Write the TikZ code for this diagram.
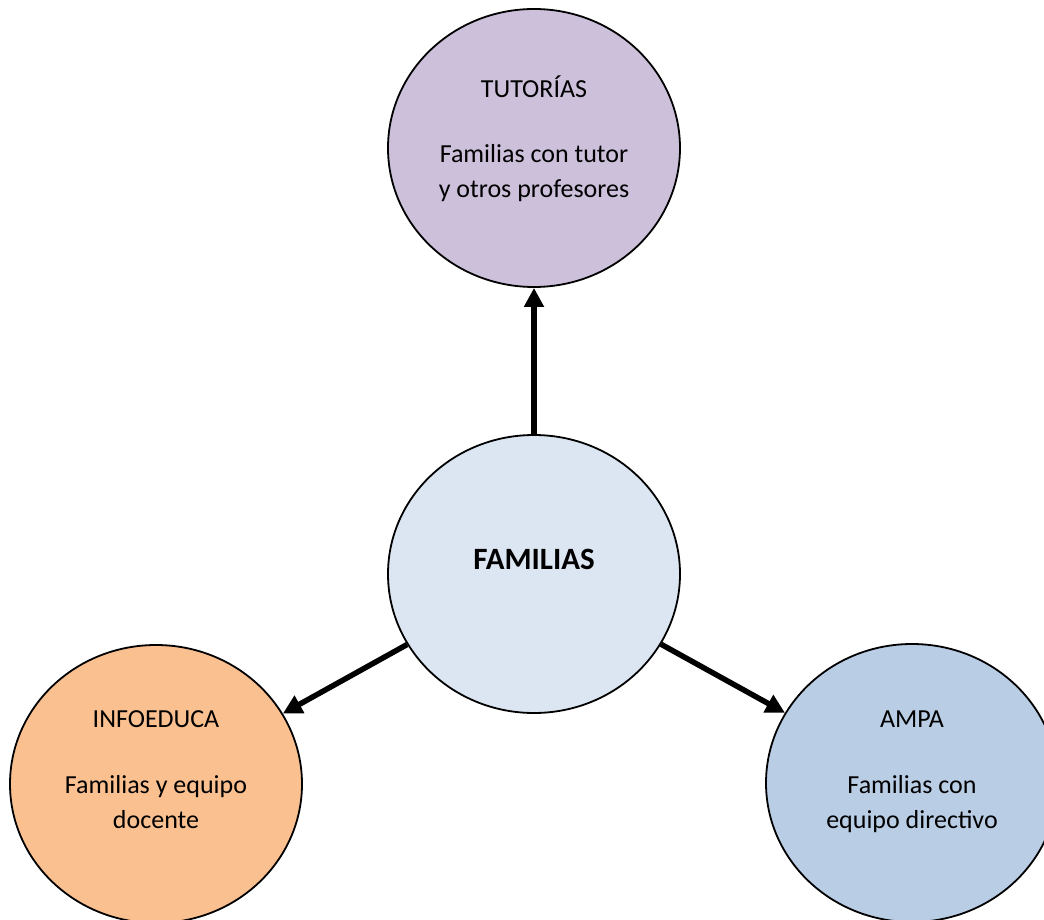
\documentclass[tikz,border=0pt]{standalone}
\usepackage{fontspec}
\setmainfont{Carlito}
\usetikzlibrary{shapes.geometric,arrows.meta}
\definecolor{tutcol}{HTML}{CCC0DA}
\definecolor{famcol}{HTML}{DCE6F2}
\definecolor{infcol}{HTML}{FAC090}
\definecolor{ampcol}{HTML}{B9CDE5}

\begin{document}
\begin{tikzpicture}[x=1pt,y=-1pt]
	\tikzstyle{node_style} = [ellipse,draw=black,line width=1.8pt,minimum width=292pt,minimum height=278pt,inner sep=0pt]
	\tikzstyle{title_style} = [font=\fontsize{26}{35}\selectfont,anchor=base,inner sep=0pt]
	\tikzstyle{text_style} = [align=center,font=\fontsize{26}{35}\selectfont,anchor=base,inner sep=0pt]
	\tikzstyle{edge_style} = [draw=black,line width=5.5pt,-{Triangle[length=19pt,width=19pt]}]
	\useasboundingbox (0,0) rectangle (1044,920);
	\node[node_style,fill=tutcol] (tut) at (534,148) {};
	\node[node_style,fill=famcol] (fam) at (534,574) {};
	\node[node_style,fill=infcol] (inf) at (156,784) {};
	\node[node_style,fill=ampcol] (amp) at (912,783) {};
	\node[title_style] (tut_title) at (534,98) {TUTORÍAS};
	\node[text_style] (tut_text) at (534,198) {Familias con tutor\\y otros profesores};
	\node[title_style,font=\fontsize{31}{35}\selectfont\bfseries] (fam_title) at (534,569) {FAMILIAS};
	\node[title_style] (inf_title) at (156,727) {INFOEDUCA};
	\node[text_style] (inf_text) at (156,828) {Familias y equipo\\docente};
	\node[title_style] (amp_title) at (912,727) {AMPA};
	\node[text_style] (amp_text) at (912,828) {Familias con\\equipo directivo};
	\draw[edge_style]  (fam) edge (tut);
	\draw[edge_style]  (fam) edge (inf);
	\draw[edge_style]  (fam) edge (amp);
\end{tikzpicture}
\end{document}
